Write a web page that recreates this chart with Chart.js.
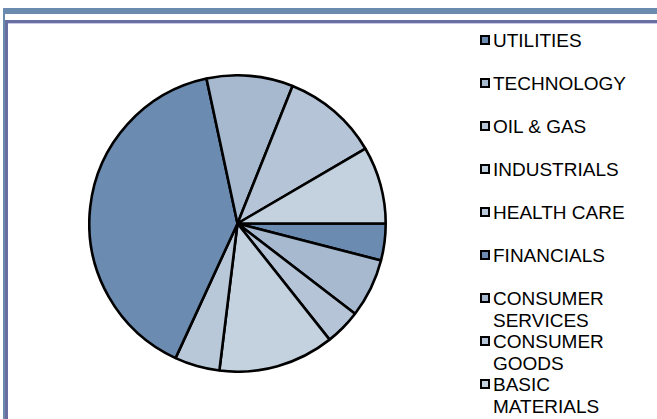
<!DOCTYPE html>
<html>
<head>
<meta charset="utf-8">
<script src="https://cdn.jsdelivr.net/npm/chart.js@4"></script>
<style>
  html, body { margin: 0; padding: 0; background: #fff; }
  body { width: 657px; height: 419px; position: relative; overflow: hidden;
         font-family: "Liberation Sans", Arial, sans-serif; }
  .band-top { position: absolute; left: 3px; top: 8px; width: 654px; height: 6px; background: #6a8bad; }
  .band-left { position: absolute; left: 3px; top: 8px; width: 2px; height: 411px; background: #6a8bad; }
  .band-left2 { position: absolute; left: 5px; top: 20px; width: 3px; height: 399px; background: #6a6fa2; }
  .line-top { position: absolute; left: 5px; top: 20px; width: 652px; height: 3px; background: #6a6fa2; }
  .line-top2 { position: absolute; left: 8px; top: 23px; width: 649px; height: 1px; background: #c9c8e6; }
  #pieBox { position: absolute; left: 88px; top: 74px; width: 299px; height: 299px; }
  #legend { position: absolute; left: 480px; top: 30px; width: 170px; }
  .item { height: 43px; position: relative; padding-left: 13px; }
  .item .txt { width: 150px; font-size: 19px; line-height: 21.5px; color: #000; }
  .item .box { position: absolute; left: 0; top: 5px; width: 6px; height: 6px;
               border: 2px solid #000; }
</style>
</head>
<body>
<div class="band-top"></div>
<div class="band-left"></div>
<div class="band-left2"></div>
<div class="line-top"></div>
<div class="line-top2"></div>
<div id="pieBox"><canvas id="pie"></canvas></div>
<div id="legend"></div>
<script>
// sector split, percent of total
const sectors = ["UTILITIES", "TECHNOLOGY", "OIL & GAS", "INDUSTRIALS", "HEALTH CARE",
                 "FINANCIALS", "CONSUMER SERVICES", "CONSUMER GOODS", "BASIC MATERIALS"]
const weights = [4.0, 6.4, 3.9, 12.6, 4.9, 39.7, 9.4, 10.5, 8.4]

const palette = ["#6b8bb0", "#a7b9cf", "#b5c5d7", "#c4d2e0", "#b9c8d9"]
const sliceColors = sectors.map((s, i) => palette[i % palette.length])

const ctx = document.getElementById("pie").getContext("2d")

const chart = new Chart(ctx, {
  type: "pie",
  data: {
    labels: sectors,
    datasets: [
      {
        data: weights,
        backgroundColor: sliceColors,
        borderColor: "#000",
        borderWidth: 2.6,
      },
    ],
  },
  options: {
    responsive: true,
    maintainAspectRatio: false,
    animation: false,
    rotation: 90,
    layout: { padding: 0 },
    plugins: {
      legend: { display: false },
      tooltip: { enabled: false },
    },
  },
})

// html legend so the long names can wrap like the original
const legend = document.getElementById("legend")
chart.data.labels.forEach((label, i) => {
  const item = document.createElement("div")
  item.className = "item"
  const box = document.createElement("div")
  box.className = "box"
  box.style.background = chart.data.datasets[0].backgroundColor[i]
  const txt = document.createElement("div")
  txt.className = "txt"
  txt.textContent = label
  item.appendChild(box)
  item.appendChild(txt)
  legend.appendChild(item)
})
</script>
</body>
</html>
